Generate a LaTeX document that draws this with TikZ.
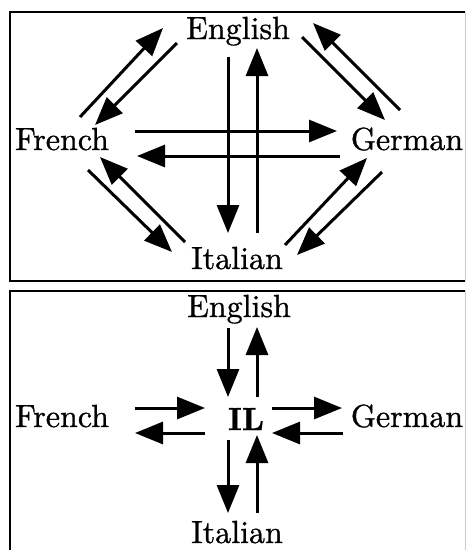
\documentclass[tikz,border=0pt]{standalone}
\usepackage{fontspec}
\setmainfont{lmroman10-regular.otf}[BoldFont=lmroman10-bold.otf, FakeBold=0.9]
\usetikzlibrary{arrows.meta}

\begin{document}
\begin{tikzpicture}[x=1pt, y=-1pt, >={Triangle[length=28pt, width=22pt]},
    lang/.style={anchor=base, inner sep=0pt, font=\fontsize{32}{38}\selectfont},
    arr/.style={->, line width=3pt},
    panel/.style={line width=2.6pt}]
    \useasboundingbox (0,0) rectangle (467,550);

    % --- top: pairwise translation ---
    \draw[panel] (465,12) -- (10,12) -- (10,281) -- (465,281);
    \draw[gray!40, line width=1pt] (465,12) -- (465,281);
    \node[lang] (en) at (238,39) {English};
    \node[lang] (fr) at (62,150) {French};
    \node[lang] (ge) at (407,150) {German};
    \node[lang] (it) at (237,269) {Italian};
    \draw[arr] ([shift={(-10,18)}]en.base) -- ([shift={(-9,-36)}]it.base);
    \draw[arr] ([shift={(20,-36)}]it.base) -- ([shift={(19,9)}]en.base);
    \draw[arr] ([shift={(73,-19)}]fr.base) -- ([shift={(-70,-19)}]ge.base);
    \draw[arr] ([shift={(-67,6)}]ge.base) -- ([shift={(75,6)}]fr.base);
    \draw[arr] ([shift={(18,-33)}]fr.base) -- ([shift={(-75,-11)}]en.base);
    \draw[arr] ([shift={(-61,4)}]en.base) -- ([shift={(33,-25)}]fr.base);
    \draw[arr] ([shift={(64,-2)}]en.base) -- ([shift={(-22,-30)}]ge.base);
    \draw[arr] ([shift={(-7,-40)}]ge.base) -- ([shift={(75,-16)}]en.base);
    \draw[arr] ([shift={(-52,-27)}]it.base) -- ([shift={(38,7)}]fr.base);
    \draw[arr] ([shift={(26,20)}]fr.base) -- ([shift={(-65,-17)}]it.base);
    \draw[arr] ([shift={(48,-24)}]it.base) -- ([shift={(-40,8)}]ge.base);
    \draw[arr] ([shift={(-25,22)}]ge.base) -- ([shift={(60,-14)}]it.base);

    % --- bottom: through the interlingua ---
    \draw[panel] (465,291) -- (10,291) -- (10,552);
    \draw[gray!40, line width=1pt] (465,291) -- (465,552);
    \node[lang] (en2) at (239,317) {English};
    \node[lang] (fr2) at (62,427) {French};
    \node[lang] (ge2) at (407,427) {German};
    \node[lang] (it2) at (237,543) {Italian};
    \node[lang, font=\fontsize{32}{38}\selectfont\bfseries] (il) at (246,430) {IL};
    \draw[arr] ([shift={(-11,11)}]en2.base) -- ([shift={(-18,-33)}]il.base);
    \draw[arr] ([shift={(11,-33)}]il.base) -- ([shift={(18,10)}]en2.base);
    \draw[arr] ([shift={(73,-19)}]fr2.base) -- ([shift={(-41,-22)}]il.base);
    \draw[arr] ([shift={(-41,3)}]il.base) -- ([shift={(73,6)}]fr2.base);
    \draw[arr] ([shift={(26,-22)}]il.base) -- ([shift={(-65,-19)}]ge2.base);
    \draw[arr] ([shift={(-64,6)}]ge2.base) -- ([shift={(26,3)}]il.base);
    \draw[arr] ([shift={(-18,10)}]il.base) -- ([shift={(-9,-30)}]it2.base);
    \draw[arr] ([shift={(20,-30)}]it2.base) -- ([shift={(11,5)}]il.base);
\end{tikzpicture}
\end{document}
